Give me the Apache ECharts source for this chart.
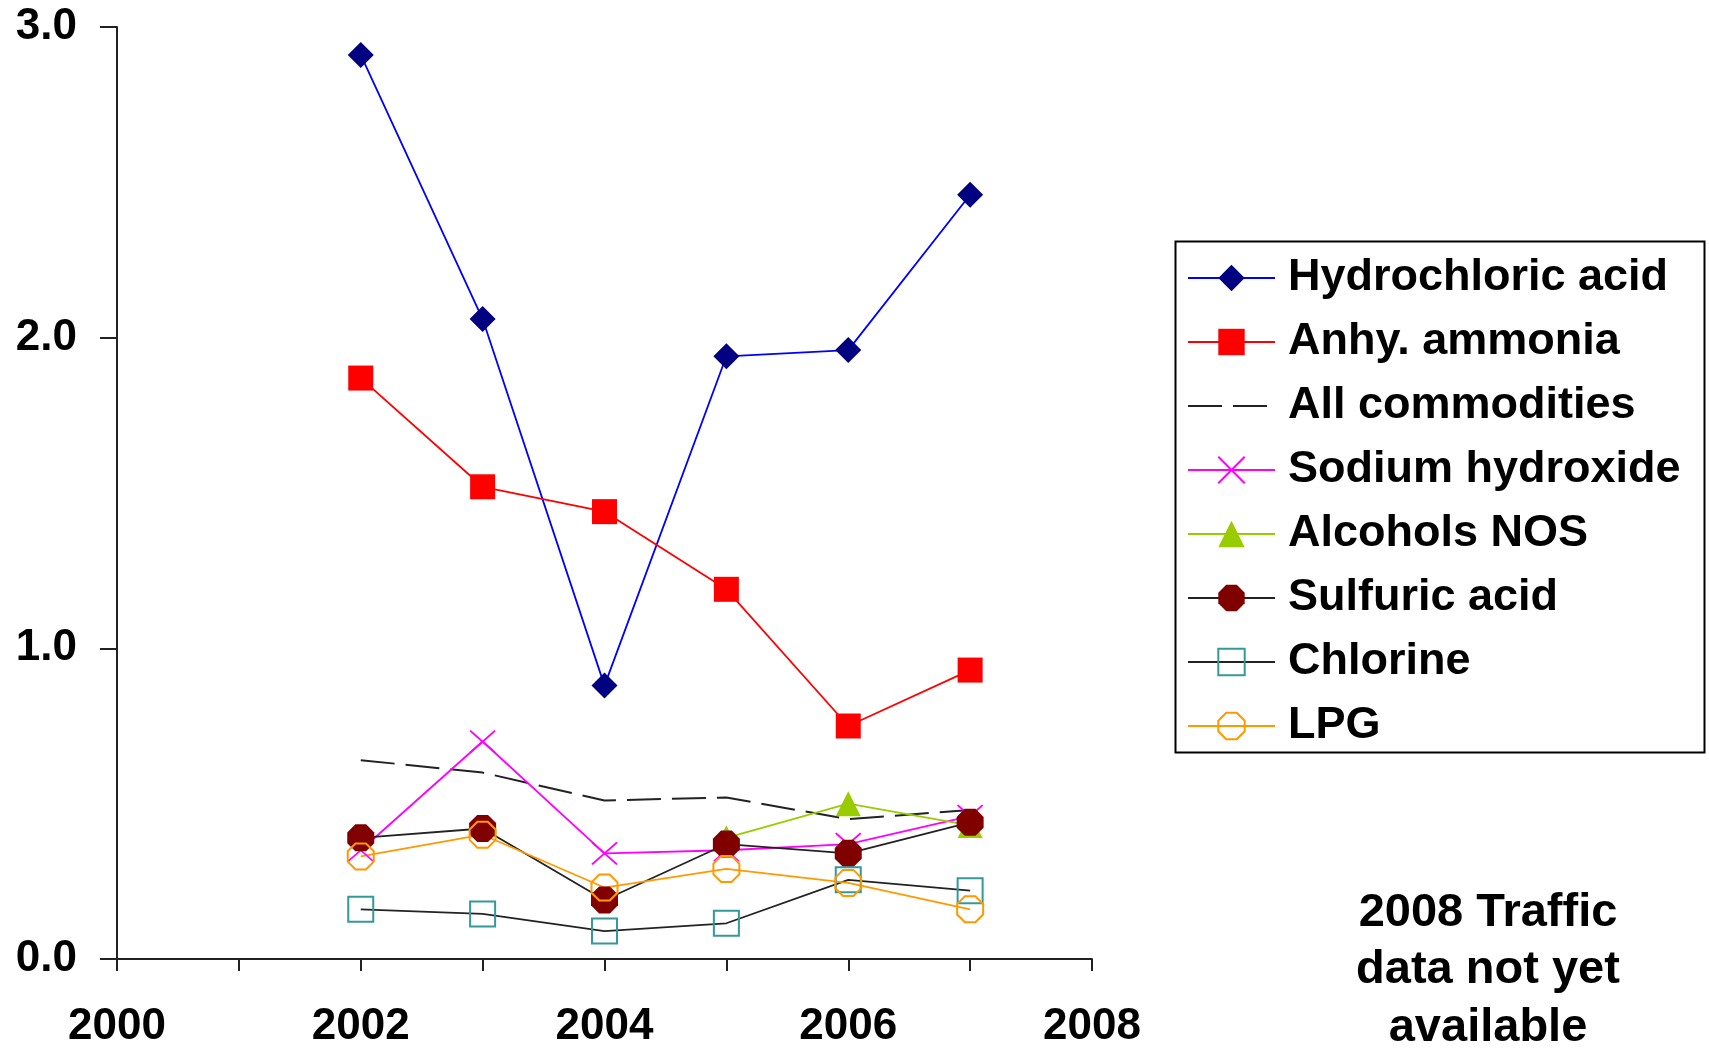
<!DOCTYPE html>
<html>
<head>
<meta charset="utf-8">
<script src="https://cdn.jsdelivr.net/npm/echarts@6/dist/echarts.min.js"></script>
<style>
html,body{margin:0;padding:0;background:#fff;}
#chart{width:1709px;height:1049px;}
</style>
</head>
<body>
<div id="chart"></div>
<script>
// ---- data ----
var years = [2002, 2003, 2004, 2005, 2006, 2007];
var hydrochloricAcid = [2.91, 2.06, 0.88, 1.94, 1.96, 2.46];
var anhyAmmonia      = [1.87, 1.52, 1.44, 1.19, 0.75, 0.93];
var allCommodities   = [0.64, 0.60, 0.51, 0.52, 0.45, 0.48];
var sodiumHydroxide  = [0.35, 0.70, 0.34, 0.35, 0.37, 0.46];
var alcoholsNOS      = [null, null, null, 0.39, 0.50, 0.43];
var sulfuricAcid     = [0.39, 0.42, 0.19, 0.37, 0.34, 0.44];
var chlorine         = [0.16, 0.145, 0.09, 0.115, 0.255, 0.22];
var lpg              = [0.33, 0.40, 0.23, 0.29, 0.245, 0.16];
var xTickLabels = ['2000', '2002', '2004', '2006', '2008'];
var yTickLabels = ['0.0', '1.0', '2.0', '3.0'];
var noteText = ['2008 Traffic', 'data not yet', 'available'];

function pairs(vals) {
  var out = [];
  for (var i = 0; i < years.length; i++) {
    if (vals[i] !== null) out.push([years[i], vals[i]]);
  }
  return out;
}

var FONT = 'Liberation Sans, Arial, sans-serif';
var octagon = 'path://M3,0L7,0L10,3L10,7L7,10L3,10L0,7L0,3Z';
var cross = 'path://M0,0L10,10M10,0L0,10';

var chart = echarts.init(document.getElementById('chart'), null, {renderer: 'canvas'});

var option = {
  animation: false,
  backgroundColor: '#ffffff',
  grid: {left: 117, top: 27, right: 617, bottom: 87, containLabel: false},
  xAxis: {
    type: 'value', min: 2000, max: 2008, interval: 1,
    axisLine: {lineStyle: {color: '#222', width: 2}},
    axisTick: {show: true, length: 12, inside: false, lineStyle: {color: '#222', width: 2}},
    splitLine: {show: false},
    axisLabel: {
      margin: 46, color: '#000', fontSize: 44, fontWeight: 'bold', fontFamily: FONT,
      formatter: function (v) { var s = String(v); return xTickLabels.indexOf(s) >= 0 ? s : ''; }
    }
  },
  yAxis: {
    type: 'value', min: 0, max: 3, interval: 1,
    axisLine: {show: true, lineStyle: {color: '#222', width: 2}},
    axisTick: {show: true, length: 17, inside: false, lineStyle: {color: '#222', width: 2}},
    splitLine: {show: false},
    axisLabel: {
      margin: 40, color: '#000', fontSize: 44, fontWeight: 'bold', fontFamily: FONT,
      formatter: function (v) { return yTickLabels[Math.round(v)]; }
    }
  },
  legend: {
    orient: 'vertical', left: 1187, top: 246, padding: 0, itemGap: 0,
    itemWidth: 87, itemHeight: 33, selectedMode: false,
    textStyle: {fontSize: 45, fontWeight: 'bold', fontFamily: FONT, color: '#000', lineHeight: 64, padding: [0, 0, 0, 8]},
    data: [
      'Hydrochloric acid', 'Anhy. ammonia',
      {name: 'All commodities', itemStyle: {opacity: 0}},
      'Sodium hydroxide', 'Alcohols NOS', 'Sulfuric acid', 'Chlorine', 'LPG'
    ]
  },
  graphic: [
    {type: 'rect', left: 1173, top: 239, shape: {width: 529, height: 511},
     style: {fill: 'none', stroke: '#000', lineWidth: 2}, silent: true},
    {type: 'text', left: 1488 - 200, top: 884, style: {
      text: noteText.join('\n'), width: 400, align: 'center', textAlign: 'center',
      font: 'bold 47px ' + FONT, fill: '#000', lineHeight: 57.5
    }}
  ],
  series: [
    {name: 'Hydrochloric acid', type: 'line', data: pairs(hydrochloricAcid),
     symbol: 'diamond', symbolSize: 26,
     lineStyle: {color: '#0000FF', width: 1.8}, itemStyle: {color: '#000080'}},
    {name: 'Anhy. ammonia', type: 'line', data: pairs(anhyAmmonia),
     symbol: 'rect', symbolSize: 25,
     lineStyle: {color: '#FF0000', width: 1.8}, itemStyle: {color: '#FF0000'}},
    {name: 'All commodities', type: 'line', data: pairs(allCommodities),
     symbol: 'none', showSymbol: false,
     lineStyle: {color: '#222', width: 2, type: [34, 11]}, itemStyle: {color: '#222'}},
    {name: 'Sodium hydroxide', type: 'line', data: pairs(sodiumHydroxide),
     symbol: cross, symbolSize: [25, 22],
     lineStyle: {color: '#FF00FF', width: 1.8},
     itemStyle: {color: '#FF00FF', borderColor: '#FF00FF', borderWidth: 1.8}},
    {name: 'Alcohols NOS', type: 'line', data: pairs(alcoholsNOS),
     symbol: 'triangle', symbolSize: 25,
     lineStyle: {color: '#99CC00', width: 1.8}, itemStyle: {color: '#99CC00'}},
    {name: 'Sulfuric acid', type: 'line', data: pairs(sulfuricAcid),
     symbol: octagon, symbolSize: 27,
     lineStyle: {color: '#222', width: 1.8}, itemStyle: {color: '#800000'}},
    {name: 'Chlorine', type: 'line', data: pairs(chlorine),
     symbol: 'rect', symbolSize: 25,
     lineStyle: {color: '#222', width: 1.8},
     itemStyle: {color: 'rgba(0,0,0,0)', borderColor: '#339999', borderWidth: 2}},
    {name: 'LPG', type: 'line', data: pairs(lpg),
     symbol: octagon, symbolSize: 26,
     lineStyle: {color: '#FF9900', width: 1.8},
     itemStyle: {color: 'rgba(0,0,0,0)', borderColor: '#FF9900', borderWidth: 2}}
  ]
};
chart.setOption(option);
</script>
</body>
</html>
